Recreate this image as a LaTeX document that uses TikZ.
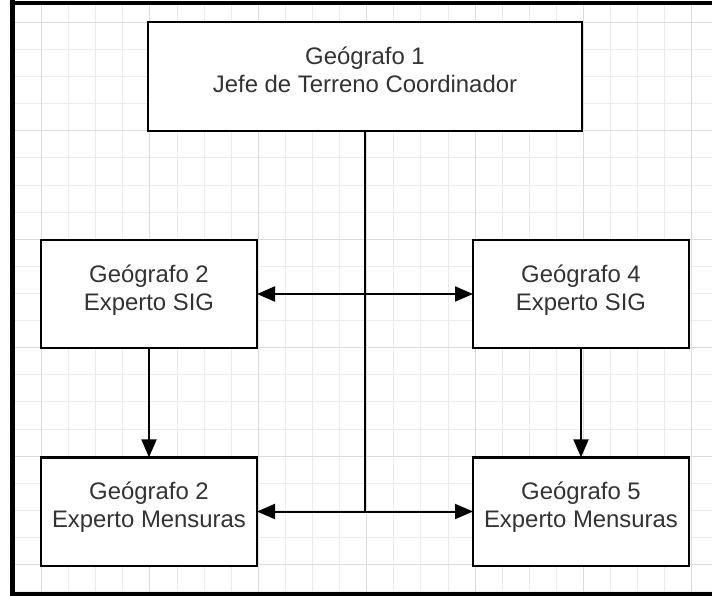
\documentclass[tikz,border=0pt]{standalone}
\usepackage{fontspec}
\setmainfont{Liberation Sans}
\usepackage{tikz}
\usetikzlibrary{arrows.meta}
\definecolor{gridminor}{HTML}{EBEBEB}
\definecolor{gridmajor}{HTML}{DCDCDC}
\definecolor{textgray}{HTML}{333333}
\tikzstyle{box} = [draw=black, fill=white, line width=0.7mm, inner sep=0pt, outer sep=0pt, align=center, text=textgray, text depth=4mm, font=\fontsize{20.4}{23.9}\selectfont]
\tikzstyle{widebox} = [box, minimum width=130.2mm, minimum height=32.7mm]
\tikzstyle{smallbox} = [box, minimum width=64.8mm, minimum height=32.5mm]
\tikzstyle{line} = [draw, line width=0.6mm, ->]
\tikzstyle{dline} = [line, <->]

\begin{document}
\begin{tikzpicture}[x=0.3mm, y=-0.3mm, >={Triangle[length=5.4mm,width=4.5mm]}]
      \useasboundingbox (0,0) rectangle (712,596);

      % grid
      \begin{scope}
        \clip (15,5) rectangle (712,592);
        \foreach \i [evaluate=\i as \gx using 41.5+27.1*\i] in {-1,...,25}
          \draw [gridminor, line width=0.3mm] (\gx,0) -- (\gx,596);
        \foreach \j [evaluate=\j as \gy using 22.5+27.1*\j] in {-1,...,22}
          \draw [gridminor, line width=0.3mm] (0,\gy) -- (712,\gy);
        \foreach \i [evaluate=\i as \gx using 41.5+27.1*\i] in {0,4,...,24}
          \draw [gridmajor, line width=0.3mm] (\gx,0) -- (\gx,596);
        \foreach \j [evaluate=\j as \gy using 22.5+27.1*\j] in {0,4,...,20}
          \draw [gridmajor, line width=0.3mm] (0,\gy) -- (712,\gy);
      \end{scope}

      % frame
      \fill [black] (10,0) rectangle (15,596);
      \fill [black] (10,1.5) rectangle (712,5);
      \fill [black] (10,592) rectangle (712,596);

      \node[widebox] (geo1) at (365,76.5) {Geógrafo 1\\Jefe de Terreno Coordinador};
      \node[smallbox] (geo2) at (149,294) {Geógrafo 2\\Experto SIG};
      \node[smallbox] (geo4) at (581,294) {Geógrafo 4\\Experto SIG};
      \node[smallbox] (geo2m) at (149,511.5) {Geógrafo 2\\Experto Mensuras};
      \node[smallbox] (geo5) at (581,511.5) {Geógrafo 5\\Experto Mensuras};

      \draw [line width=0.6mm] (geo1.south) -- (geo1.south |- geo2m.east);
      \draw [dline] (geo2.east) -- (geo4.west);
      \draw [dline] (geo2m.east) -- (geo5.west);
      \draw [line] (geo2.south) -- (geo2m.north);
      \draw [line] (geo4.south) -- (geo5.north);
    \end{tikzpicture}
\end{document}
